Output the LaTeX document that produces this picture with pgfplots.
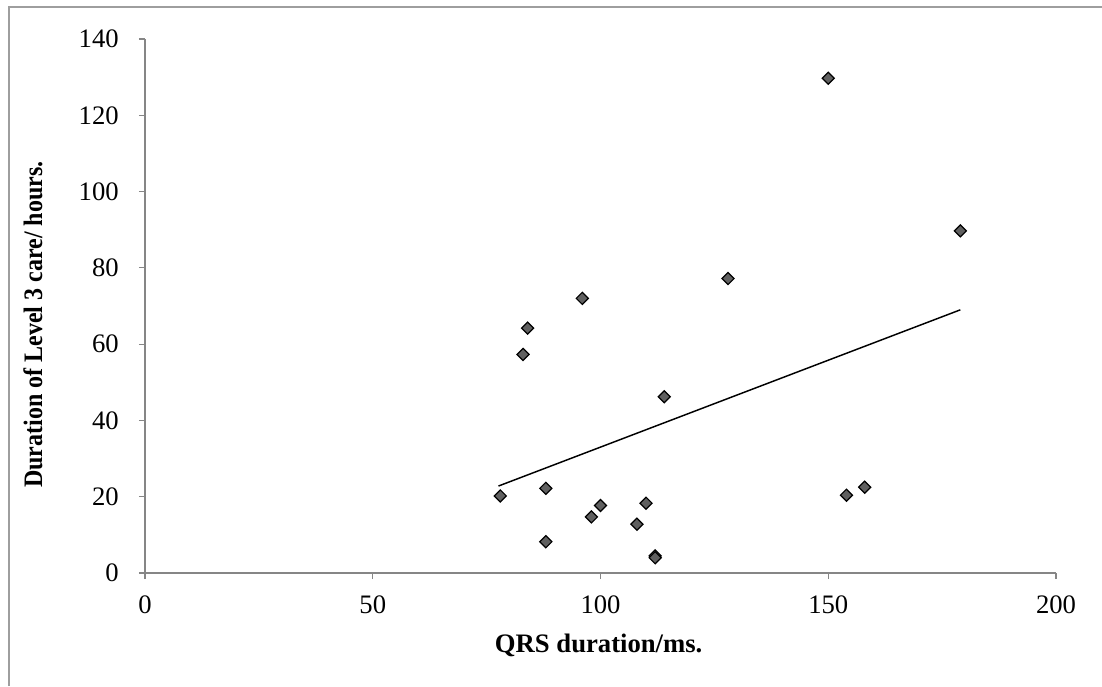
\documentclass[border=0pt]{standalone}
\usepackage{pgfplots}
\pgfplotsset{compat=1.18}
\usepackage{fontspec}
\setmainfont{Liberation Serif}
\definecolor{axgray}{HTML}{868686}
\definecolor{markfill}{HTML}{606060}
\begin{document}
\fontsize{20}{24}\selectfont
\begin{tikzpicture}
\useasboundingbox (0,0) rectangle (826.5pt,514.5pt);
\draw[color=axgray!80, line width=0.8pt] (6.75pt,0) -- (6.75pt,509.25pt) -- (826.5pt,509.25pt);
\begin{axis}[
  at={(108.75pt,84.75pt)}, anchor=south west,
  scale only axis,
  width=683.25pt, height=400.5pt,
  xmin=0, xmax=200, ymin=0, ymax=140,
  xtick={0,50,...,200}, ytick={0,20,...,140},
  axis x line*=bottom, axis y line*=left,
  axis line style={color=axgray, line width=0.9pt, -},
  tick style={color=axgray, line width=0.9pt},
  tick align=outside, major tick length=4.5pt,
  tick label style={font=\fontsize{20}{24}\selectfont, inner sep=2pt},
  xticklabel style={yshift=-10pt},
  yticklabel style={xshift=-13pt},
  /pgf/number format/assume math mode=true,
  xlabel={\textbf{QRS duration/ms.}},
  ylabel={\scalebox{0.9}[1]{\textbf{Duration of Level 3 care/ hours.}}},
  label style={font=\fontsize{20}{24}\selectfont},
  xlabel style={at={(axis description cs:0.498,-0.1498)}, anchor=base},
  ylabel style={at={(axis description cs:-0.1229,0.465)}, anchor=center},
  clip=false,
]
\addplot[only marks, mark=square*, mark size=3.2pt,
  mark options={rotate=45, fill=markfill, draw=black, line width=0.9pt}]
coordinates {
(78,20.2) (88,22.2) (88,8.2) (83,57.3) (84,64.2) (96,72)
(98,14.7) (100,17.7) (108,12.8) (110,18.3) (112,4.5) (112,4)
(114,46.2) (128,77.2) (150,129.7) (154,20.4) (158,22.5) (179,89.7)
};
\addplot[black, line width=1.1pt, no marks] coordinates {(77.6,22.8) (179,69)};
\end{axis}
\end{tikzpicture}
\end{document}
